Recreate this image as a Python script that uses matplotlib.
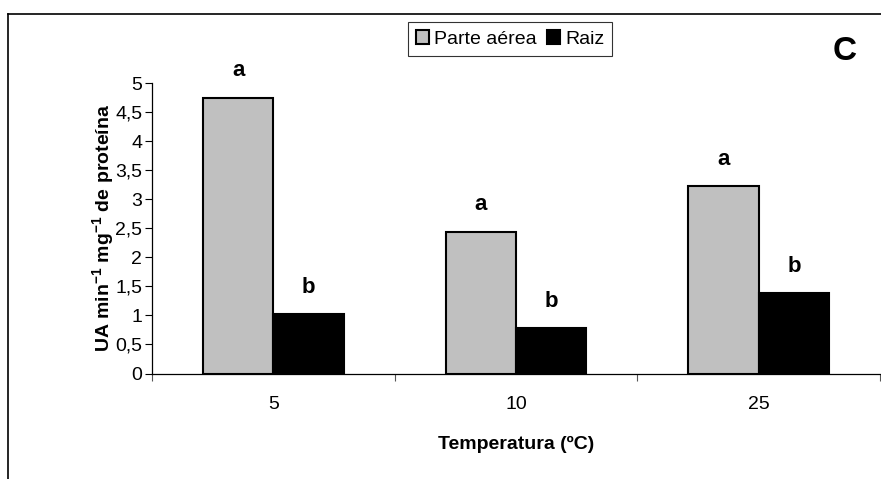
import numpy as np
import matplotlib
matplotlib.use("Agg")
from matplotlib import pyplot as plt
from matplotlib.lines import Line2D

plt.rcParams['font.family'] = ['Liberation Sans', 'DejaVu Sans']
plt.rcParams['mathtext.fontset'] = 'custom'
plt.rcParams['mathtext.bf'] = 'Liberation Sans:bold'
plt.rcParams['mathtext.rm'] = 'Liberation Sans'

# temperaturas e atividade enzimática
temperaturas = ["5", "10", "25"]
parte_aerea = [4.74, 2.44, 3.22]
raiz = [1.02, 0.78, 1.38]
letras_aerea = ["a", "a", "a"]
letras_raiz = ["b", "b", "b"]

W, H = 881, 479
fs = 14
fig = plt.figure(figsize=(W / 100, H / 100), dpi=100)
ax = fig.add_axes([152 / W, 1 - 373.5 / H, (880 - 152) / W, (373.5 - 83) / H])

x = np.arange(len(temperaturas))
larg = 0.29
ax.bar(x - larg / 2, parte_aerea, larg, color='#c0c0c0', edgecolor='black', linewidth=1.5,
       label='Parte aérea', zorder=2)
ax.bar(x + larg / 2, raiz, larg, color='black', edgecolor='black', linewidth=1.5,
       label='Raiz', zorder=2)

# letras de significância acima das barras
for i in range(len(x)):
    ax.annotate(letras_aerea[i], (x[i] - larg / 2, parte_aerea[i]), xytext=(0, 12),
                textcoords='offset points', ha='center', va='bottom', fontsize=16, fontweight='bold')
    ax.annotate(letras_raiz[i], (x[i] + larg / 2, raiz[i]), xytext=(0, 12),
                textcoords='offset points', ha='center', va='bottom', fontsize=16, fontweight='bold')

ax.set_xlim(-0.5, len(x) - 0.5)
ax.set_ylim(0, 5)
ax.set_yticks(np.arange(0, 5.01, 0.5))
ax.set_yticklabels([("%g" % v).replace('.', ',') for v in np.arange(0, 5.01, 0.5)], fontsize=fs)
ax.set_xticks(x)
ax.set_xticklabels(temperaturas, fontsize=fs)
ax.tick_params(axis='x', length=0, pad=16)
ax.set_xticks(np.arange(-0.5, len(x), 1.0), minor=True)
ax.tick_params(axis='x', which='minor', length=5, width=0.8, color='#555555')
ax.tick_params(axis='y', length=5, width=0.8, pad=2)
for s in ['top', 'right']:
    ax.spines[s].set_visible(False)
ax.spines['left'].set_linewidth(0.9)
ax.spines['bottom'].set_linewidth(0.9)

ax.set_xlabel('Temperatura (ºC)', fontsize=fs, fontweight='bold', labelpad=17)
ax.set_ylabel('UA min$^{\\mathbf{-1}}$ mg$^{\\mathbf{-1}}$ de proteína', fontsize=fs,
              fontweight='bold', labelpad=-1)

leg = ax.legend(loc='center', bbox_to_anchor=(510 / W, 1 - 39 / H), bbox_transform=fig.transFigure,
                ncol=2, frameon=True, fancybox=False, fontsize=fs, handlelength=0.7, handleheight=0.7,
                handletextpad=0.25, columnspacing=0.5, borderpad=0.4, borderaxespad=0)
leg.get_frame().set_edgecolor('black')
leg.get_frame().set_linewidth(0.8)

fig.text(845 / W, 1 - 52 / H, 'C', fontsize=24, fontweight='bold', ha='center', va='center')

# moldura da figura
fig.add_artist(Line2D([8 / W, 1], [1 - 14 / H, 1 - 14 / H], color='black', lw=1.2))
fig.add_artist(Line2D([8 / W, 8 / W], [0, 1 - 14 / H], color='black', lw=1.2))

fig.savefig('out.png', dpi=100)
